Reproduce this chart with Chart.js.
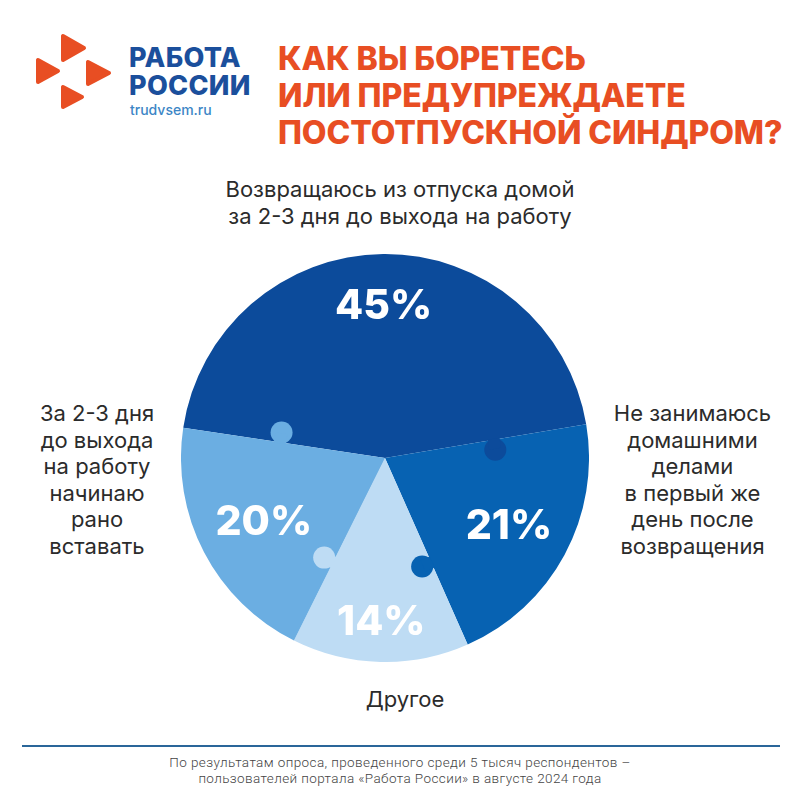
<!DOCTYPE html>
<html lang="ru">
<head>
<meta charset="UTF-8">
<title>Постотпускной синдром</title>
<script src="https://cdn.jsdelivr.net/npm/chart.js"></script>
<style>
    body { margin: 0; width: 800px; height: 800px; background: #fff; position: relative; overflow: hidden; font-family: Inter, "Open Sans", sans-serif; }
    .abs { position: absolute; white-space: nowrap; }
    #logo-text1 { left: 129px; top: 44px; font: 800 27px/28px Inter, sans-serif; color: #1b4f9c; letter-spacing: 0.3px; }
    #logo-site { left: 130px; top: 101px; font: 500 14px Inter, sans-serif; color: #3c86c6; }
    #title { left: 278px; top: 40px; font: 800 32px/37px Inter, sans-serif; color: #e84e23; letter-spacing: -0.1px; }
    .lbl { font: 400 22px/26.5px Inter, sans-serif; color: #2b2b2b; text-align: center; }
    #footer-line { left: 22px; top: 745px; width: 758px; height: 1.5px; background: #2a6699; }
    #footer { left: 0; top: 754px; width: 800px; text-align: center; font: 300 13.5px/16px Roboto, sans-serif; color: #444; letter-spacing: 0.4px; }
    #wrap { left: 181px; top: 254px; width: 408px; height: 408px; }
</style>
</head>
<body>
<svg class="abs" style="left:0;top:0" width="130" height="130">
    <g fill="#e84e23" stroke="#e84e23" stroke-width="4" stroke-linejoin="round">
        <polygon points="63,36 63,60 84,48"/>
        <polygon points="38,60 38,82 58,71"/>
        <polygon points="88,62 88,84 109,73"/>
        <polygon points="63,87 63,107 82,97"/>
    </g>
</svg>
<div id="logo-text1" class="abs">РАБОТА<br>РОССИИ</div>
<div id="logo-site" class="abs">trudvsem.ru</div>
<div id="title" class="abs">КАК ВЫ БОРЕТЕСЬ<br>ИЛИ ПРЕДУПРЕЖДАЕТЕ<br>ПОСТОТПУСКНОЙ СИНДРОМ?</div>

<div class="abs lbl" style="left:150px;top:176px;width:500px;">Возвращаюсь из отпуска домой<br>за 2-3 дня до выхода на работу</div>
<div class="abs lbl" style="left:12px;top:400px;width:170px;">За 2-3 дня<br>до выхода<br>на работу<br>начинаю<br>рано<br>вставать</div>
<div class="abs lbl" style="left:595px;top:400px;width:195px;">Не занимаюсь<br>домашними<br>делами<br>в первый же<br>день после<br>возвращения</div>
<div class="abs lbl" style="left:305px;top:686px;width:200px;">Другое</div>

<div id="wrap" class="abs"><canvas id="pie" width="408" height="408"></canvas></div>

<div id="footer-line" class="abs"></div>
<div id="footer" class="abs">По результатам опроса, проведенного среди 5 тысяч респондентов –<br>пользователей портала «Работа России» в августе 2024 года</div>

<script>
const categories = [
    "Возвращаюсь из отпуска домой за 2-3 дня до выхода на работу",
    "Не занимаюсь домашними делами в первый же день после возвращения",
    "Другое",
    "За 2-3 дня до выхода на работу начинаю рано вставать"
];
const shares = [45, 21, 14, 20];
const sliceColors = ["#0c4b9b", "#0762b2", "#bedcf4", "#6baee2"];
// how far along the radius each % label and each puzzle knob sits
const labelRadius = [0.75, 0.69, 0.80, 0.67];
const knobRadius = [0.52, 0.54, 0.56, 0.57];

// puzzle knobs: at the start edge of every slice, the previous slice pokes in
const puzzleKnobs = {
    id: "puzzleKnobs",
    afterDatasetsDraw(chart) {
        const ctx = chart.ctx;
        const arcs = chart.getDatasetMeta(0).data;
        arcs.forEach((arc, i) => {
            const prev = (i + arcs.length - 1) % arcs.length;
            const a = arc.startAngle;
            const r = arc.outerRadius * knobRadius[i];
            const bx = arc.x + Math.cos(a) * r;
            const by = arc.y + Math.sin(a) * r;
            const px = -Math.sin(a), py = Math.cos(a);
            ctx.save();
            ctx.fillStyle = sliceColors[prev];
            ctx.beginPath();
            ctx.arc(bx + px * 10, by + py * 10, 11, 0, Math.PI * 2);
            ctx.fill();
            ctx.translate(bx, by);
            ctx.rotate(a);
            ctx.fillRect(-6, -1, 12, 10);
            ctx.restore();
        });
    }
};

const pctLabels = {
    id: "pctLabels",
    afterDatasetsDraw(chart) {
        const ctx = chart.ctx;
        const arcs = chart.getDatasetMeta(0).data;
        ctx.save();
        ctx.fillStyle = "#ffffff";
        ctx.font = "800 41px Inter, sans-serif";
        ctx.textAlign = "center";
        ctx.textBaseline = "middle";
        arcs.forEach((arc, i) => {
            const mid = (arc.startAngle + arc.endAngle) / 2;
            const r = arc.outerRadius * labelRadius[i];
            ctx.fillText(shares[i] + "%", arc.x + Math.cos(mid) * r, arc.y + Math.sin(mid) * r + 2);
        });
        ctx.restore();
    }
};

new Chart(document.getElementById("pie").getContext("2d"), {
    type: "pie",
    data: {
        labels: categories,
        datasets: [{
            data: shares,
            backgroundColor: sliceColors,
            borderWidth: 0,
            hoverOffset: 0
        }]
    },
    options: {
        responsive: false,
        animation: false,
        rotation: -81.5,
        layout: { padding: 0 },
        plugins: { legend: { display: false }, tooltip: { enabled: false } }
    },
    plugins: [puzzleKnobs, pctLabels]
});
</script>
</body>
</html>
